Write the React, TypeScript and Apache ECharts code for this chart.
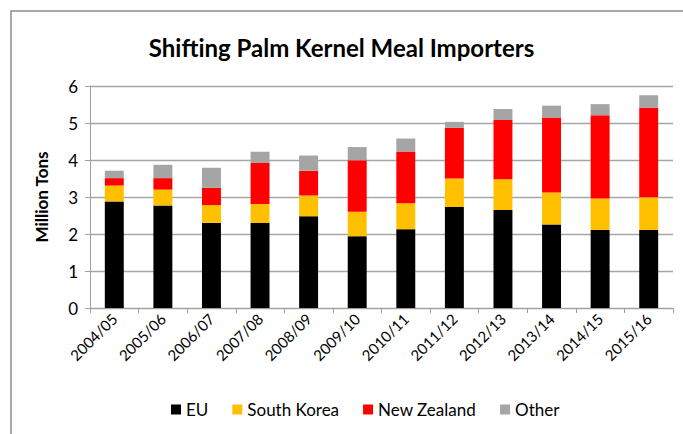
import React, { useEffect, useRef } from "react";
import * as echarts from "echarts";

const categories = ["2004/05", "2005/06", "2006/07", "2007/08", "2008/09", "2009/10", "2010/11", "2011/12", "2012/13", "2013/14", "2014/15", "2015/16"];
const euValues = [2.88, 2.77, 2.30, 2.30, 2.48, 1.94, 2.13, 2.73, 2.65, 2.26, 2.11, 2.11];
const southKoreaValues = [0.43, 0.43, 0.48, 0.51, 0.56, 0.66, 0.70, 0.77, 0.83, 0.86, 0.85, 0.88];
const newZealandValues = [0.20, 0.31, 0.47, 1.11, 0.67, 1.39, 1.40, 1.37, 1.60, 2.03, 2.25, 2.42];
const otherValues = [0.20, 0.36, 0.54, 0.30, 0.41, 0.36, 0.35, 0.16, 0.30, 0.32, 0.30, 0.34];
const yTicks = [0, 1, 2, 3, 4, 5, 6];

const FONT = "Lato, 'Open Sans', sans-serif";

export default function App() {
  const ref = useRef<HTMLDivElement>(null);
  useEffect(() => {
    if (!ref.current) return;
    const chart = echarts.init(ref.current, null, { renderer: "svg" });
    const mk = (name: string, data: number[], color: string) => ({
      name,
      type: "bar",
      stack: "total",
      data,
      barWidth: "39%",
      itemStyle: { color },
    });
    chart.setOption({
      animation: false,
      backgroundColor: "#ffffff",
      textStyle: { fontFamily: FONT },
      title: {
        text: "Shifting Palm Kernel Meal Importers",
        left: "center",
        top: 30,
        textStyle: { fontFamily: FONT, fontSize: 24, fontWeight: "bold", color: "#000" },
      },
      legend: {
        bottom: 11,
        left: 166,
        itemWidth: 10,
        itemHeight: 10,
        itemGap: 24,
        icon: "rect",
        textStyle: { fontFamily: FONT, fontSize: 17, color: "#000" },
        data: ["EU", "South Korea", "New Zealand", "Other"],
      },
      grid: { left: 90, right: 10, top: 86, bottom: 126, containLabel: false },
      xAxis: {
        type: "category",
        data: categories,
        axisLine: { lineStyle: { color: "#a0a0a0", width: 1 } },
        axisTick: { show: true, alignWithLabel: false, length: 5, lineStyle: { color: "#a0a0a0" } },
        axisLabel: { rotate: 45, fontSize: 15, color: "#000", margin: 8, fontFamily: FONT, interval: 0 },
      },
      yAxis: {
        type: "value",
        min: yTicks[0],
        max: yTicks[yTicks.length - 1],
        interval: 1,
        name: "Million Tons",
        nameLocation: "middle",
        nameGap: 40,
        nameTextStyle: { fontFamily: FONT, fontSize: 17, fontWeight: "bold", color: "#000" },
        axisLine: { show: true, lineStyle: { color: "#a0a0a0" } },
        axisTick: { show: true, length: 5, lineStyle: { color: "#a0a0a0" } },
        axisLabel: { fontSize: 17, color: "#000", margin: 12, fontFamily: FONT },
        splitLine: { lineStyle: { color: "#a6a6a6", width: 1.3 } },
      },
      graphic: [
        {
          type: "rect",
          shape: { x: 11, y: 11, width: 720, height: 460 },
          style: { fill: "none", stroke: "#8c8c8c", lineWidth: 1.5 },
          silent: true,
        },
      ],
      series: [
        mk("EU", euValues, "#000000"),
        mk("South Korea", southKoreaValues, "#FFC000"),
        mk("New Zealand", newZealandValues, "#FF0000"),
        mk("Other", otherValues, "#A5A5A5"),
      ],
    });
    return () => chart.dispose();
  }, []);
  return <div ref={ref} style={{ position: "fixed", left: 0, top: 0, width: 683, height: 434 }} />;
}
